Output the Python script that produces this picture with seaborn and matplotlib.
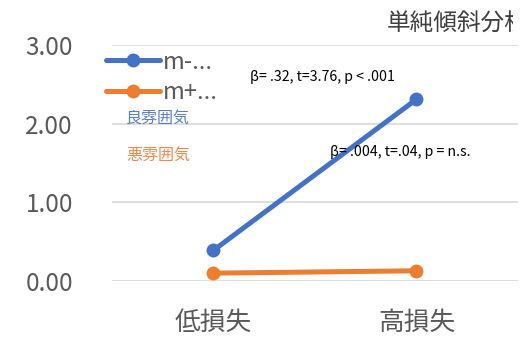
import matplotlib
matplotlib.use("Agg")
import matplotlib.pyplot as plt
import seaborn as sns
import pandas as pd
from matplotlib.lines import Line2D
from matplotlib.transforms import Bbox, TransformedBbox

sns.set_theme(style="white")
plt.rcParams["font.family"] = ["Noto Sans CJK JP", "DejaVu Sans"]

# Data
conditions = ["低損失", "高損失"]
series_names = ["m-...", "m+..."]
m_minus = [0.39, 2.31]
m_plus = [0.10, 0.13]
y_ticks = [0.0, 1.0, 2.0, 3.0]
colors = ["#4472C4", "#ED7D31"]

df = pd.DataFrame({
    "損失": conditions * 2,
    "値": m_minus + m_plus,
    "群": [series_names[0]] * 2 + [series_names[1]] * 2,
})

fig = plt.figure(figsize=(5.28, 3.38), dpi=100)
ax = fig.add_axes([0.212, 0.1686, 0.769, 0.6983])

sns.lineplot(data=df, x="損失", y="値", hue="群", palette=colors,
             marker="o", markersize=10, markeredgewidth=0, linewidth=3.6,
             legend=False, ax=ax, sort=False)

ax.set_xlim(-0.5, 1.5)
ax.set_ylim(0, 3)
ax.set_yticks(y_ticks)
ax.set_yticklabels([f"{v:.2f}" for v in y_ticks])
ax.set_xlabel("")
ax.set_ylabel("")
ax.grid(axis="y", color="#D9D9D9", linewidth=1.2)
ax.set_axisbelow(True)
for s in ax.spines.values():
    s.set_visible(False)
ax.tick_params(axis="y", labelsize=17.5, labelcolor="#595959", length=0, pad=28)
ax.tick_params(axis="x", labelsize=18.5, labelcolor="#595959", length=0, pad=21)

# Legend
handles = [Line2D([], [], color=c, linewidth=3.6, marker="o", markersize=10,
                  markeredgewidth=0) for c in colors]
fig.legend(handles, series_names, loc="upper left",
           bbox_to_anchor=(0.178, 0.885), frameon=False,
           fontsize=17, labelcolor="#595959", handlelength=2.3,
           handletextpad=0.1, labelspacing=0.33, borderpad=0)

# Group labels
fig.text(126 / 528, 1 - 119 / 338, "良雰囲気", color="#5B7FC4", fontsize=11.5,
         va="center", ha="left")
fig.text(126 / 528, 1 - 155 / 338, "悪雰囲気", color="#F08A4B", fontsize=11.5,
         va="center", ha="left")

# Slope statistics
fig.text(250 / 528, 1 - 77 / 338, "β= .32, t=3.76, p < .001", color="black",
         fontsize=10.2, va="center", ha="left")
fig.text(330 / 528, 1 - 152 / 338, "β= .004, t=.04, p = n.s.", color="black",
         fontsize=10.2, va="center", ha="left")

# Title, cut off by its text box on the right
title = fig.text(387 / 528, 1 - 23 / 338, "単純傾斜分析", color="#404040",
                 fontsize=17, va="center", ha="left")
title.set_clip_box(TransformedBbox(Bbox([[0, 0], [513 / 528, 1]]), fig.transFigure))
title.set_clip_on(True)

fig.savefig("out.png", dpi=100)
